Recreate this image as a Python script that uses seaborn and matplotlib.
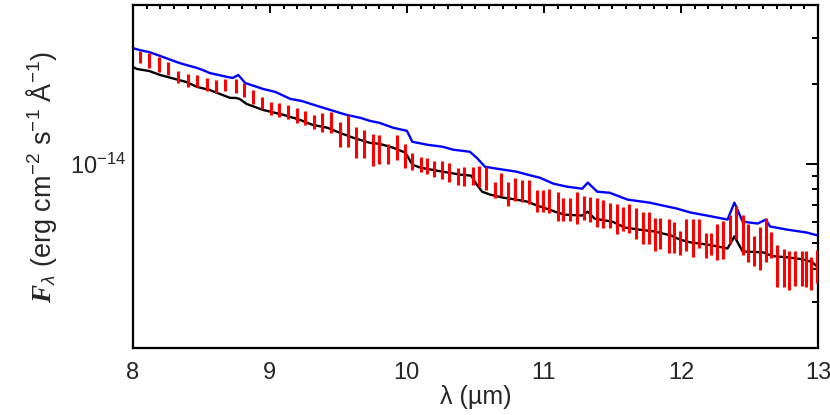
import numpy as np
import pandas as pd
import matplotlib
matplotlib.use('Agg')
import matplotlib.pyplot as plt
import seaborn as sns
from matplotlib.ticker import MultipleLocator, FixedLocator, LogLocator, NullFormatter

# wavelength in micron, flux in 1e-15 erg cm-2 s-1 A-1
bar_wl = [8.05, 8.12, 8.19, 8.26, 8.33, 8.40, 8.47, 8.54, 8.61, 8.67,
          8.75, 8.81, 8.88, 8.94, 9.01, 9.07, 9.13, 9.20, 9.26, 9.32,
          9.38, 9.45, 9.51, 9.57, 9.63, 9.69, 9.75, 9.80, 9.86, 9.93,
          9.99, 10.04, 10.10, 10.15, 10.20, 10.26, 10.31, 10.37, 10.42, 10.48,
          10.53, 10.58, 10.64, 10.69, 10.74, 10.79, 10.84, 10.89, 10.95, 10.99,
          11.04, 11.10, 11.14, 11.19, 11.24, 11.29, 11.34, 11.39, 11.43, 11.48,
          11.53, 11.58, 11.62, 11.67, 11.72, 11.77, 11.81, 11.85, 11.91, 11.95,
          11.99, 12.04, 12.09, 12.13, 12.18, 12.22, 12.26, 12.31, 12.36, 12.40,
          12.45, 12.49, 12.53, 12.58, 12.62, 12.66, 12.70, 12.75, 12.79, 12.83,
          12.88, 12.91, 12.95, 12.99]
bar_hi = [26.74, 26.28, 25.40, 24.31, 22.47, 21.89, 21.70, 21.15, 20.78, 20.96,
          20.96, 20.24, 19.05, 17.92, 17.16, 17.01, 16.72, 16.28, 15.86, 15.32,
          15.59, 15.72, 14.42, 15.32, 13.81, 13.45, 12.99, 12.87, 11.90, 12.87,
          11.90, 11.01, 10.62, 10.53, 10.26, 10.26, 10.09, 9.66, 9.74, 9.74,
          9.83, 9.74, 8.55, 9.25, 8.55, 8.85, 8.70, 8.70, 7.97, 7.97,
          8.04, 7.83, 7.44, 7.44, 7.83, 7.57, 7.50, 7.44, 7.31, 7.12,
          7.06, 6.88, 7.06, 6.82, 6.58, 6.58, 6.25, 6.25, 6.19, 6.03,
          5.58, 6.19, 6.19, 6.19, 5.44, 5.48, 5.93, 6.09, 6.41, 6.94,
          6.41, 5.93, 5.34, 5.73, 6.25, 5.53, 4.90, 4.73, 4.65, 4.65,
          4.65, 4.65, 4.42, 4.69]
bar_lo = [24.10, 23.07, 22.28, 21.70, 20.24, 19.55, 19.55, 18.88, 18.56, 18.88,
          18.56, 17.92, 16.86, 16.14, 15.32, 15.06, 14.80, 14.29, 14.05, 13.57,
          13.22, 13.10, 11.60, 11.60, 10.53, 10.53, 9.83, 10.00, 10.00, 10.35,
          9.66, 9.49, 9.33, 9.17, 8.93, 8.78, 8.55, 8.33, 8.25, 8.33,
          8.18, 7.97, 7.44, 7.57, 6.94, 7.25, 7.18, 7.06, 6.58, 6.58,
          6.53, 6.09, 6.09, 6.09, 5.93, 6.14, 6.03, 5.73, 5.68, 5.68,
          5.39, 5.58, 5.48, 5.16, 4.94, 4.94, 4.65, 4.73, 4.57, 4.57,
          4.49, 4.65, 4.42, 4.81, 4.38, 4.49, 4.30, 4.34, 4.94, 5.20,
          4.49, 4.23, 4.08, 3.94, 4.23, 4.38, 3.40, 3.40, 3.31, 3.43,
          3.43, 3.40, 3.31, 3.52]

blue_wl = [8.00, 8.05, 8.12, 8.22, 8.34, 8.39, 8.47, 8.51, 8.56, 8.69,
           8.73, 8.77, 8.82, 8.95, 9.04, 9.15, 9.23, 9.37, 9.44, 9.56,
           9.66, 9.73, 9.80, 9.90, 10.00, 10.04, 10.15, 10.26, 10.34, 10.46,
           10.51, 10.57, 10.66, 10.80, 10.88, 10.97, 11.07, 11.17, 11.28, 11.32,
           11.39, 11.48, 11.61, 11.77, 11.97, 12.07, 12.19, 12.34, 12.39, 12.45,
           12.56, 12.62, 12.65, 12.77, 12.92, 13.00]
blue_f = [27.45, 26.98, 26.51, 25.40, 24.10, 23.69, 23.07, 22.67, 22.09, 21.33,
          21.15, 21.70, 20.24, 19.22, 18.72, 17.61, 17.31, 16.42, 16.00, 15.32,
          14.93, 14.54, 14.29, 13.69, 13.33, 12.11, 11.80, 11.60, 11.30, 11.10,
          10.53, 9.74, 9.57, 9.33, 9.09, 8.85, 8.40, 8.18, 8.04, 8.48,
          7.83, 7.76, 7.31, 7.12, 6.76, 6.53, 6.36, 6.14, 7.12, 6.03,
          5.93, 6.14, 5.78, 5.63, 5.48, 5.34]

black_wl = [8.00, 8.03, 8.12, 8.20, 8.39, 8.47, 8.56, 8.71, 8.75, 8.78,
            8.83, 8.95, 9.10, 9.22, 9.31, 9.42, 9.51, 9.61, 9.73, 9.80,
            9.90, 9.99, 10.04, 10.10, 10.22, 10.39, 10.47, 10.51, 10.55, 10.61,
            10.70, 10.80, 10.88, 10.95, 11.04, 11.08, 11.15, 11.28, 11.32, 11.37,
            11.45, 11.50, 11.59, 11.69, 11.81, 11.93, 11.99, 12.07, 12.14, 12.23,
            12.34, 12.39, 12.45, 12.60, 12.67, 12.77, 12.89, 12.96, 13.00]
black_f = [23.27, 22.87, 22.47, 21.70, 20.42, 19.55, 19.05, 17.77, 17.77, 17.61,
           16.86, 16.00, 15.32, 14.67, 14.05, 13.69, 13.10, 12.54, 12.00, 11.90,
           11.50, 11.01, 9.91, 9.66, 9.41, 9.09, 9.01, 8.33, 7.83, 7.63,
           7.44, 7.31, 7.18, 6.94, 6.70, 6.58, 6.41, 6.36, 6.58, 6.19,
           6.09, 6.03, 5.73, 5.63, 5.53, 5.34, 5.16, 5.03, 4.98, 4.90,
           4.77, 5.30, 4.65, 4.61, 4.46, 4.42, 4.34, 4.23, 4.04]

scale = 1e-15

#1. style
sns.set_style('white')
plt.rcParams['font.family'] = ['Liberation Sans', 'DejaVu Sans']
plt.rcParams['mathtext.fontset'] = 'custom'
plt.rcParams['mathtext.rm'] = 'Liberation Sans'
plt.rcParams['mathtext.it'] = 'Liberation Sans:italic'
plt.rcParams['mathtext.bf'] = 'Liberation Sans:bold'
plt.rcParams['mathtext.bfit'] = 'Liberation Serif:italic:bold'

fig, ax = plt.subplots(figsize=(8.3, 4.15), dpi=100)
fig.subplots_adjust(left=0.160, right=0.9855, bottom=0.1614, top=0.988)

#2. model lines
blue = pd.DataFrame({'wl': blue_wl, 'f': np.array(blue_f) * scale})
black = pd.DataFrame({'wl': black_wl, 'f': np.array(black_f) * scale})
sns.lineplot(data=blue, x='wl', y='f', color='blue', lw=1.7, estimator=None, sort=False, ax=ax)
sns.lineplot(data=black, x='wl', y='f', color='black', lw=1.7, estimator=None, sort=False, ax=ax)

#3. observed ranges
ax.vlines(bar_wl, np.array(bar_lo) * scale, np.array(bar_hi) * scale, color='red', lw=2.2, zorder=3)

#4. axes
ax.set_yscale('log')
ax.set_xlim(8, 13)
ax.set_ylim(2e-15, 4e-14)
ax.xaxis.set_major_locator(MultipleLocator(1))
ax.xaxis.set_minor_locator(MultipleLocator(0.1))
ax.yaxis.set_major_locator(FixedLocator([1e-14]))
ax.yaxis.set_minor_locator(LogLocator(base=10, subs=np.arange(2, 10)))
ax.yaxis.set_minor_formatter(NullFormatter())

ax.tick_params(axis='both', which='both', direction='in', top=True, right=True,
               color='black', width=1.4, labelsize=17)
ax.tick_params(axis='x', which='major', length=5.5, pad=10)
ax.tick_params(axis='x', which='minor', length=3)
ax.tick_params(axis='y', which='major', length=9, pad=5)
ax.tick_params(axis='y', which='minor', length=4.5)
for s in ax.spines.values():
    s.set_linewidth(1.6)
    s.set_color('black')

ax.set_xlabel('λ (µm)', fontsize=18, labelpad=1)
ax.set_ylabel(r'$\mathbfit{F}_{\lambda}$ (erg cm$^{-2}$ s$^{-1}$ Å$^{-1}$)', fontsize=19.5, labelpad=8)

plt.savefig('out.png', dpi=100)
